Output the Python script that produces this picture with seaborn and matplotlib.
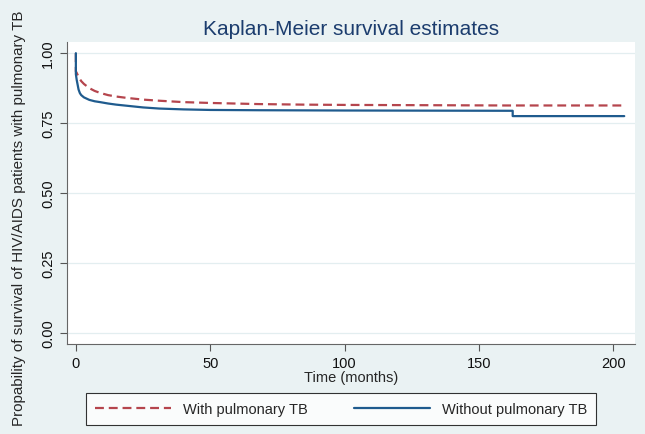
import matplotlib
matplotlib.use('Agg')
import matplotlib.pyplot as plt
import seaborn as sns
import pandas as pd

# Kaplan-Meier estimates
t_with = [0, 0, 0.3, 1, 2, 3, 5, 7, 9, 12, 15, 19, 25, 31, 40, 50, 68, 85, 100, 130, 160, 204]
s_with = [1.0, 0.935, 0.93, 0.915, 0.90, 0.89, 0.875, 0.865, 0.858, 0.85, 0.845, 0.84, 0.834, 0.83,
          0.825, 0.822, 0.818, 0.816, 0.815, 0.814, 0.813, 0.813]

t_without = [0, 0, 0.3, 0.7, 1, 1.5, 2, 3, 5, 7, 9, 12, 15, 19, 25, 31, 40, 50, 68, 100,
             162.5, 162.5, 204]
s_without = [1.0, 0.925, 0.905, 0.885, 0.87, 0.857, 0.85, 0.842, 0.833, 0.828, 0.825, 0.82, 0.816,
             0.812, 0.806, 0.802, 0.799, 0.797, 0.796, 0.795, 0.794, 0.775, 0.775]

labels = ['With pulmonary TB', 'Without pulmonary TB']
xticks = [0, 50, 100, 150, 200]
yticks = [0.0, 0.25, 0.5, 0.75, 1.0]

sns.set_style('white')
plt.rcParams['font.family'] = ['Liberation Sans', 'DejaVu Sans']

bg = '#eaf2f3'
fig = plt.figure(figsize=(6.45, 4.35), dpi=100, facecolor=bg)
ax = fig.add_axes([67/645, 90/435, 568/645, 302/435])
ax.set_facecolor('white')

df1 = pd.DataFrame({'t': t_with, 's': s_with})
df2 = pd.DataFrame({'t': t_without, 's': s_without})
sns.lineplot(data=df1, x='t', y='s', ax=ax, color='#b5454d', lw=1.6, sort=False,
             linestyle=(0, (4, 2.2)), label=labels[0], estimator=None)
sns.lineplot(data=df2, x='t', y='s', ax=ax, color='#1f5b8e', lw=1.6, sort=False,
             label=labels[1], estimator=None)

ax.set_xlim(-3.3, 208)
ax.set_ylim(-0.04, 1.04)
ax.set_xticks(xticks)
ax.set_yticks(yticks)
ax.set_yticklabels([f'{v:.2f}' for v in yticks], rotation=90, va='center')
ax.tick_params(axis='both', direction='out', length=5, width=0.8, color='#555555',
               labelsize=10.5, labelcolor='#111111', left=True, bottom=True)
ax.grid(axis='y', color='#e3eef0', lw=0.9)
for side in ['top', 'right']:
    ax.spines[side].set_visible(False)
for side in ['left', 'bottom']:
    ax.spines[side].set_color('#666666')
    ax.spines[side].set_linewidth(0.8)

ax.set_xlabel('Time (months)', fontsize=10.5, labelpad=0)
ax.set_ylabel('Propability of survival of HIV/AIDS patients with pulmonary TB', fontsize=10.9)
ax.yaxis.set_label_coords(-0.072, (345 - 218) / 302)
ax.set_title('Kaplan-Meier survival estimates', fontsize=15, color='#1c3d6e', pad=6)

ax.get_legend().remove()
h, l = ax.get_legend_handles_labels()
leg = fig.legend(h, l, loc='center', bbox_to_anchor=(341/645, 1 - 410/435), ncol=2,
                 fontsize=10.5, frameon=True, fancybox=False, edgecolor='black',
                 handlelength=5.2, columnspacing=3.2, borderpad=0.6, borderaxespad=0)
leg.get_frame().set_linewidth(0.8)

fig.savefig('out.png', dpi=100, facecolor=bg)
